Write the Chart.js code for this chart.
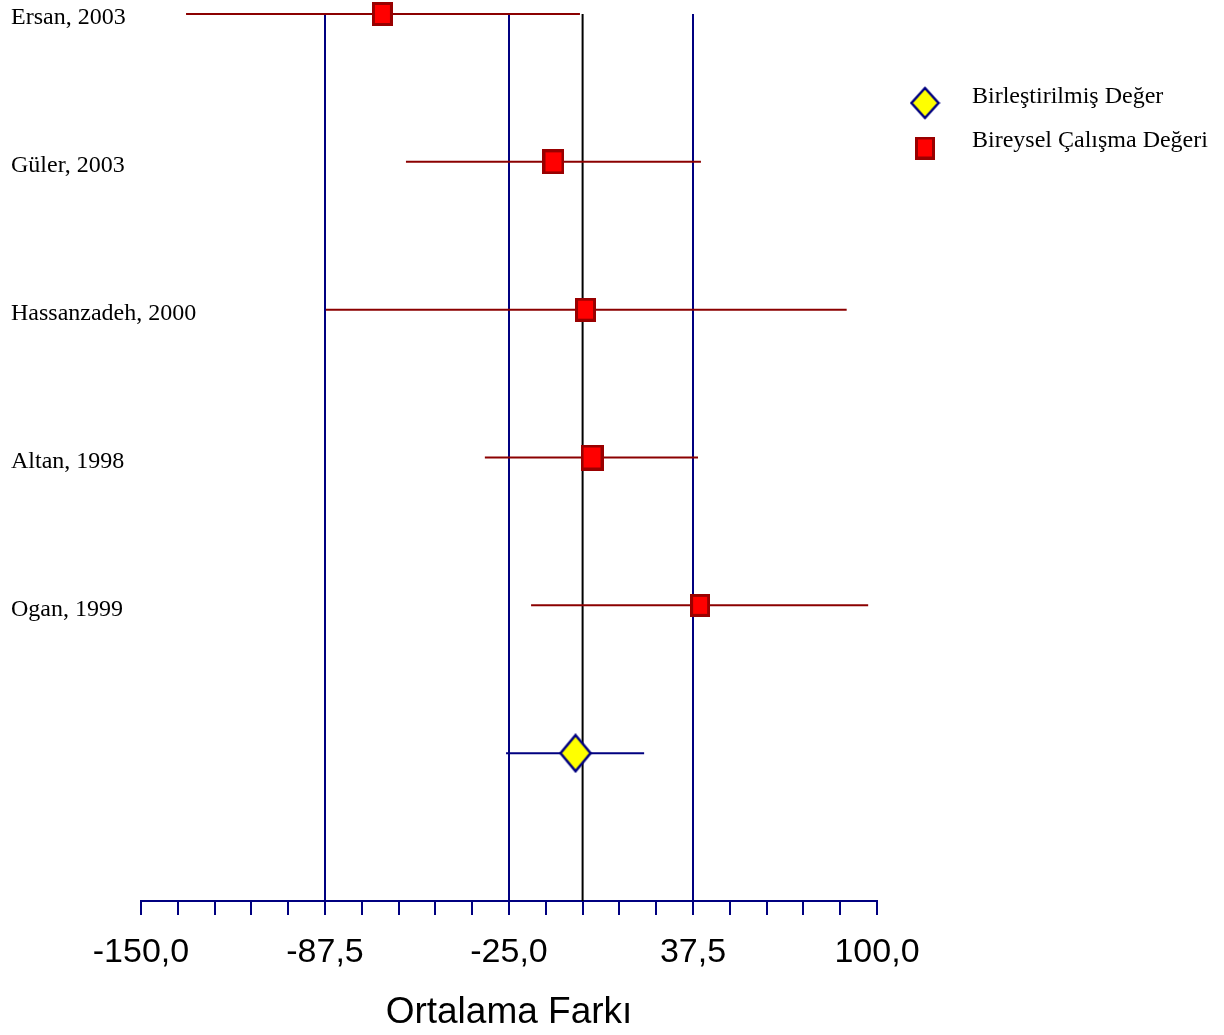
<!DOCTYPE html>
<html>
<head>
<meta charset="utf-8">
<title>Ortalama Farkı</title>
<script src="https://cdn.jsdelivr.net/npm/chart.js@4.4.1/dist/chart.umd.min.js"></script>
<style>
  html, body { margin: 0; padding: 0; background: #fff; }
  #wrap { width: 1224px; height: 1035px; position: relative; }
</style>
</head>
<body>
<div id="wrap"><canvas id="forest"></canvas></div>
<script>
// study rows, top to bottom
const studies = ['Ersan, 2003', 'Güler, 2003', 'Hassanzadeh, 2000', 'Altan, 1998', 'Ogan, 1999'];
const studyMean = [-68.0, -9.9, 1.0, 3.2, 39.9];
const studyLow = [-134.7, -60.0, -87.2, -33.2, -17.5];
const studyHigh = [-0.9, 40.2, 89.7, 39.2, 97.0];

// pooled estimate
const pooledMean = -2.4;
const pooledLow = -26.0;
const pooledHigh = 20.9;

// axis
const tickValues = [-150, -87.5, -25, 37.5, 100];
const tickLabels = ['-150,0', '-87,5', '-25,0', '37,5', '100,0'];
const refLines = [-87.5, -25, 37.5];
const nullLine = 0;

const NAVY = '#000080';
const DARKRED = '#8B0000';

// marker images
function makeSquare(w, h) {
    const c = document.createElement('canvas');
    c.width = w; c.height = h;
    const g = c.getContext('2d');
    g.fillStyle = '#FF0000';
    g.fillRect(0, 0, w, h);
    g.strokeStyle = '#990000';
    g.lineWidth = 3;
    g.strokeRect(1.5, 1.5, w - 3, h - 3);
    return c;
}
function makeDiamond(w, h) {
    const c = document.createElement('canvas');
    c.width = w + 4; c.height = h + 4;
    const g = c.getContext('2d');
    g.beginPath();
    g.moveTo(2 + w / 2, 2);
    g.lineTo(2 + w, 2 + h / 2);
    g.lineTo(2 + w / 2, 2 + h);
    g.lineTo(2, 2 + h / 2);
    g.closePath();
    g.fillStyle = '#FFFF00';
    g.fill();
    g.strokeStyle = NAVY;
    g.lineWidth = 2.5;
    g.stroke();
    return c;
}

// bigger box for the heavier study
const boxSizes = [[21, 24], [22, 25], [21, 24], [23, 26], [20, 23]];
const studyMarkers = boxSizes.map(s => makeSquare(s[0], s[1]));
const pooledMarker = makeDiamond(30, 36);
const legendDiamond = makeDiamond(27, 30);
const legendSquare = makeSquare(20, 23);

const datasets = [];

// reference lines
refLines.forEach(v => {
    datasets.push({
        type: 'scatter', showLine: true, order: 3,
        data: [{x: v, y: 0}, {x: v, y: 6}],
        borderColor: NAVY, borderWidth: 2, pointRadius: 0
    });
});
datasets.push({
    type: 'scatter', showLine: true, order: 3,
    data: [{x: nullLine, y: 0}, {x: nullLine, y: 6}],
    borderColor: '#000', borderWidth: 2, pointRadius: 0
});

// confidence intervals
studies.forEach((s, i) => {
    datasets.push({
        type: 'scatter', showLine: true, order: 2,
        data: [{x: studyLow[i], y: i}, {x: studyHigh[i], y: i}],
        borderColor: DARKRED, borderWidth: 2, pointRadius: 0
    });
});
datasets.push({
    type: 'scatter', showLine: true, order: 2,
    data: [{x: pooledLow, y: studies.length}, {x: pooledHigh, y: studies.length}],
    borderColor: NAVY, borderWidth: 2, pointRadius: 0
});

// point estimates
datasets.push({
    type: 'scatter', order: 0,
    label: 'Bireysel Çalışma Değeri',
    data: studyMean.map((m, i) => ({x: m, y: i})),
    pointStyle: studyMarkers, pointRadius: 10
});
datasets.push({
    type: 'scatter', order: 0,
    label: 'Birleştirilmiş Değer',
    data: [{x: pooledMean, y: studies.length}],
    pointStyle: pooledMarker, pointRadius: 10
});

// legend on the right
const legendPlugin = {
    id: 'forestLegend',
    afterDraw(chart) {
        const ctx = chart.ctx;
        ctx.save();
        ctx.drawImage(legendDiamond, 925 - legendDiamond.width / 2, 103 - legendDiamond.height / 2);
        ctx.drawImage(legendSquare, 925 - legendSquare.width / 2, 148 - legendSquare.height / 2);
        ctx.fillStyle = '#000';
        ctx.font = '24px "Liberation Serif", "Times New Roman", serif';
        ctx.textBaseline = 'alphabetic';
        ctx.fillText('Birleştirilmiş Değer', 972, 103);
        ctx.fillText('Bireysel Çalışma Değeri', 972, 147);
        ctx.restore();
    }
};

new Chart(document.getElementById('forest'), {
    type: 'scatter',
    data: { datasets: datasets },
    options: {
        responsive: true,
        maintainAspectRatio: false,
        animation: false,
        events: [],
        clip: false,
        layout: { padding: { left: 11, right: 347, top: 14, bottom: 0 } },
        plugins: { legend: { display: false }, tooltip: { enabled: false } },
        scales: {
            x: {
                type: 'linear', position: 'bottom',
                min: -150, max: 100,
                afterBuildTicks: scale => {
                    const t = [];
                    for (let v = -150; v <= 100; v += 12.5) t.push({value: v});
                    scale.ticks = t;
                },
                afterFit: scale => { scale.height = 134; },
                ticks: {
                    autoSkip: false, maxRotation: 0, padding: 17, color: '#000',
                    font: { family: '"Liberation Sans", Arial, sans-serif', size: 34 },
                    callback: v => {
                        const k = tickValues.indexOf(v);
                        return k >= 0 ? tickLabels[k] : '';
                    }
                },
                grid: { drawOnChartArea: false, color: NAVY, lineWidth: 2, tickLength: 14, tickWidth: 2 },
                border: { color: NAVY, width: 2 },
                title: {
                    display: true, text: 'Ortalama Farkı', color: '#000',
                    font: { family: '"Liberation Sans", Arial, sans-serif', size: 37 },
                    padding: { top: 0, bottom: 0 }
                }
            },
            y: {
                type: 'linear', reverse: true,
                min: 0, max: 6,
                afterBuildTicks: scale => {
                    scale.ticks = studies.map((s, i) => ({value: i}));
                },
                afterFit: scale => { scale.width = 130; },
                // mirrored so long names are not clipped to the axis box
                ticks: {
                    autoSkip: false, mirror: true, padding: -130, color: '#000',
                    font: { family: '"Liberation Serif", "Times New Roman", serif', size: 24, lineHeight: '8px' },
                    callback: v => studies[v] ? ['', studies[v]] : ''
                },
                grid: { display: false },
                border: { display: false }
            }
        }
    },
    plugins: [legendPlugin]
});
</script>
</body>
</html>
